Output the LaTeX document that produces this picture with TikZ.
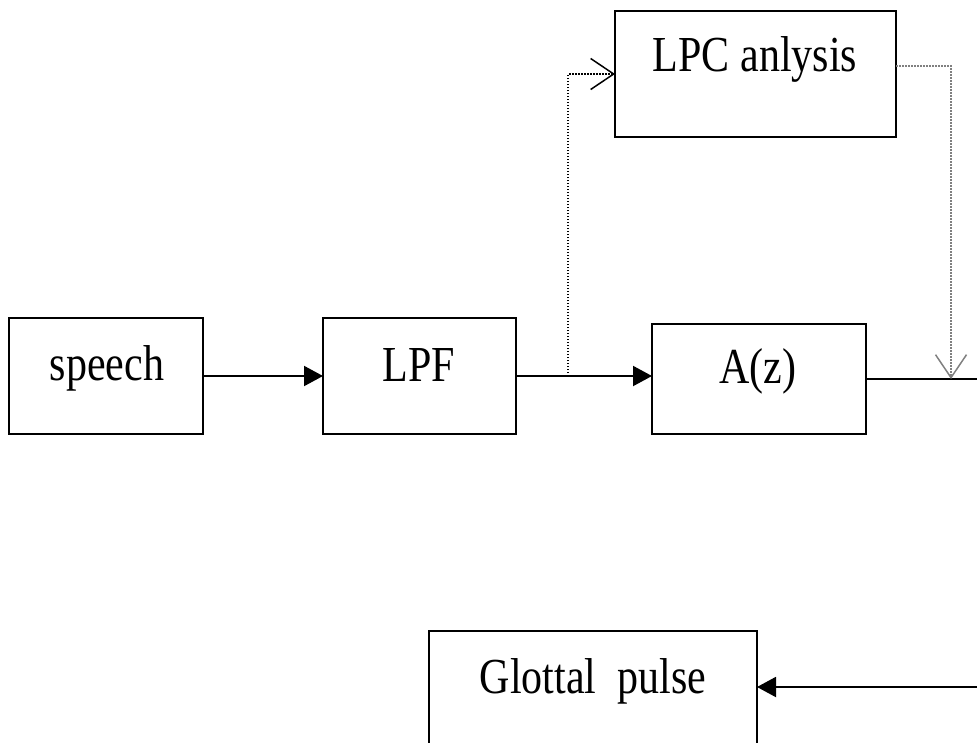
\documentclass[tikz,border=0pt]{standalone}
\usepackage{fontspec}
\setmainfont{Liberation Serif}
\usepackage{graphicx}
\usetikzlibrary{arrows.meta}
\tikzset{
  blk/.style={draw, line width=2pt, rectangle, inner sep=0pt, outer sep=0pt, anchor=north west},
  lbl/.style={anchor=base, inner sep=0pt, font=\fontsize{42}{50}\selectfont},
  sig/.style={line width=2pt, -{Triangle[length=19pt,width=20pt]}},
  ctl/.style={line width=1.5pt, dash pattern=on 1.5pt off 1.5pt, -{Straight Barb[length=23pt,width=31pt,line width=1.5pt]}},
}
\newcommand{\tallt}[1]{\scalebox{1}[1.2]{#1}}
\begin{document}
\begin{tikzpicture}[x=1pt,y=-1pt]
\useasboundingbox (0,0) rectangle (977,742);
\clip (0,0) rectangle (977,742);
% boxes
\node[blk, minimum width=194pt, minimum height=116pt] (speech) at (9,318) {};
\node[blk, minimum width=193pt, minimum height=116pt] (lpf) at (323,318) {};
\node[blk, minimum width=214pt, minimum height=110pt] (az) at (652,324) {};
\node[blk, minimum width=281pt, minimum height=126pt] (lpc) at (615,11) {};
\node[blk, minimum width=328pt, minimum height=113pt] (glot) at (429,631) {};
% labels
\node[lbl] (tspeech) at (107,380) {\tallt{speech}};
\node[lbl] (tlpf) at (419,381) {\tallt{LPF}};
\node[lbl] (taz) at (758,383) {\tallt{A(z)}};
\node[lbl] (tlpc) at (755,71) {\tallt{LPC anlysis}};
\node[lbl] (tglot) at (593,693) {\tallt{Glottal\hspace{0.5em}pulse}};
% coordinates
\coordinate (tap) at (568,376);
\coordinate (drop) at (951,379);
\coordinate (out) at (990,379);
\coordinate (ret) at (990,687);
% signal path
\draw[sig] (speech.east) -- (speech.east -| lpf.west);
\draw[sig] (lpf.east) -- (lpf.east -| az.west);
\draw[line width=2pt] (az.east) -- (out);
\draw[sig] (ret) -- (ret -| glot.east);
% control paths
\draw[ctl] (tap) |- (lpc.west);
\draw[ctl, draw=black!50] ([yshift=8pt]lpc.east) -| (drop);
\end{tikzpicture}
\end{document}
